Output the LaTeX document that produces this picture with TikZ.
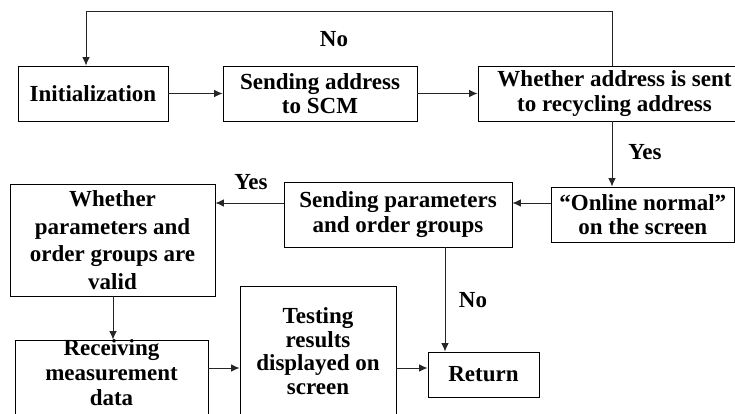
\documentclass[tikz,border=0pt]{standalone}
\usepackage{fontspec}
\setmainfont{Liberation Serif}
\usetikzlibrary{arrows.meta}
\begin{document}
\begin{tikzpicture}[x=1pt,y=-1pt,
  box/.style={draw=black,line width=0.9pt,rectangle,inner sep=0pt,align=center,
    font=\fontsize{23}{24.5}\selectfont\bfseries},
  lbl/.style={inner sep=0pt,font=\fontsize{23}{24.5}\selectfont\bfseries},
  arr/.style={draw=black!85,line width=0.9pt,-{Latex[length=8.5pt,width=7.5pt]}}]
\useasboundingbox (0,0) rectangle (735,414);
\node[box,minimum width=150,minimum height=55] (init) at (93,93.5) {Initialization};
\node[box,minimum width=194,minimum height=55] (sendaddr) at (320,93.5) {Sending address\\to SCM};
\node[box,minimum width=273,minimum height=55] (whether) at (614.5,93.5) {Whether address is sent\\to recycling address};
\node[box,minimum width=183.5,minimum height=55] (online) at (642.75,214.5) {“Online normal”\\on the screen};
\node[box,minimum width=228,minimum height=65] (sendpar) at (398,214.5) {Sending parameters\\and order groups};
\node[box,minimum width=205,minimum height=112,font=\fontsize{23}{27.5}\selectfont\bfseries] (wp) at (112.5,240) {Whether\\parameters and\\order groups are\\valid};
\node[box,minimum width=193,minimum height=78,text depth=14pt,font=\fontsize{23}{25}\selectfont\bfseries] (recv) at (111.5,380) {Receiving\\measurement\\data};
\node[box,minimum width=156,minimum height=130,font=\fontsize{23}{23.5}\selectfont\bfseries] (test) at (318,351) {Testing\\results\\displayed on\\screen};
\node[box,minimum width=111,minimum height=45] (ret) at (483.5,374.5) {Return};
\node[lbl] (no1) at (334,39) {No};
\node[lbl] (yes1) at (645,152) {Yes};
\node[lbl] (yes2) at (251,182) {Yes};
\node[lbl] (no2) at (473,300) {No};
\coordinate (c1) at (612,11);
\coordinate (c2) at (86,11);
\coordinate (ya) at (0,203);
\coordinate (yb) at (0,368);
\coordinate (xs) at (445,0);
\coordinate (xw) at (113,0);
\draw[arr] (whether.north -| c1) -- (c1) -- (c2) -- (init.north -| c2);
\draw[arr] (init) -- (sendaddr);
\draw[arr] (sendaddr) -- (whether.west |- sendaddr);
\draw[arr] (whether.south -| c1) -- (online.north -| c1);
\draw[arr] (online.west |- ya) -- (sendpar.east |- ya);
\draw[arr] (sendpar.west |- ya) -- (wp.east |- ya);
\draw[arr] (wp.south -| xw) -- (recv.north -| xw);
\draw[arr] (recv.east |- yb) -- (test.west |- yb);
\draw[arr] (test.east |- yb) -- (ret.west |- yb);
\draw[arr] (sendpar.south -| xs) -- (ret.north -| xs);
\end{tikzpicture}
\end{document}
